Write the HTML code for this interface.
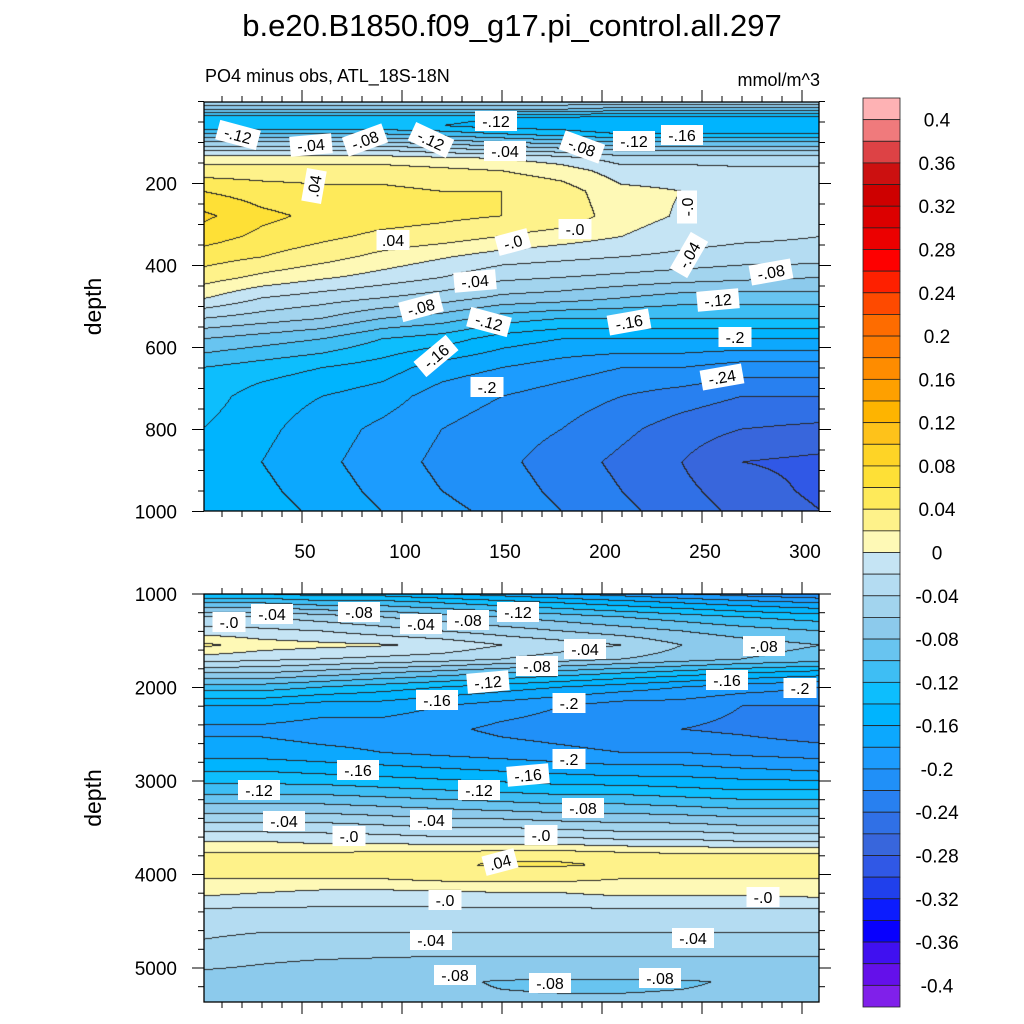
<!DOCTYPE html>
<html><head><meta charset="utf-8">
<style>
html,body{margin:0;padding:0;background:#fff;}
#root{position:relative;width:1024px;height:1024px;overflow:hidden;font-family:"Liberation Sans",sans-serif;}
canvas{position:absolute;}
svg{position:absolute;left:0;top:0;}
</style></head>
<body>
<div id="root">
<canvas id="cTop" style="left:204px;top:102px" width="615" height="409"></canvas>
<canvas id="cBot" style="left:204px;top:594px" width="615" height="408"></canvas>
<svg id="ov" width="1024" height="1024"></svg>
</div>
<script>
// ---------- data ----------
const xCols = [0, 30, 60, 90, 120, 150, 180, 210, 240, 270, 310];
const topDepths = [0, 20, 40, 60, 80, 100, 120, 140, 170, 220, 280, 330, 380, 430, 480, 530, 580, 650, 720, 800, 880, 950, 1000];
const topValues = [
 [-0.04,-0.04,-0.04,-0.04,-0.04,-0.04,-0.04,-0.04,-0.04,-0.04,-0.04],
 [-0.08,-0.08,-0.08,-0.08,-0.08,-0.08,-0.08,-0.09,-0.09,-0.09,-0.09],
 [-0.13,-0.13,-0.13,-0.13,-0.13,-0.14,-0.14,-0.15,-0.15,-0.15,-0.15],
 [-0.14,-0.14,-0.14,-0.14,-0.14,-0.15,-0.15,-0.16,-0.16,-0.16,-0.16],
 [-0.10,-0.10,-0.10,-0.10,-0.11,-0.12,-0.13,-0.14,-0.14,-0.14,-0.14],
 [-0.06,-0.06,-0.06,-0.06,-0.07,-0.08,-0.09,-0.10,-0.10,-0.10,-0.10],
 [-0.02,-0.02,-0.02,-0.02,-0.03,-0.04,-0.05,-0.06,-0.06,-0.06,-0.06],
 [0.01,0.01,0.01,0.01,0.005,0.0,-0.01,-0.03,-0.03,-0.03,-0.03],
 [0.03,0.03,0.03,0.03,0.025,0.02,0.01,-0.01,-0.01,-0.015,-0.015],
 [0.06,0.05,0.045,0.045,0.04,0.04,0.03,0.005,0.0,-0.01,-0.012],
 [0.085,0.065,0.055,0.05,0.045,0.04,0.035,0.008,-0.002,-0.01,-0.012],
 [0.07,0.055,0.045,0.035,0.03,0.02,0.01,0.0,-0.01,-0.015,-0.02],
 [0.05,0.04,0.028,0.014,0.002,-0.01,-0.015,-0.02,-0.025,-0.03,-0.03],
 [0.03,0.015,0.003,-0.008,-0.02,-0.035,-0.04,-0.045,-0.05,-0.055,-0.06],
 [0.002,-0.02,-0.03,-0.04,-0.05,-0.065,-0.07,-0.08,-0.09,-0.09,-0.09],
 [-0.04,-0.05,-0.06,-0.08,-0.09,-0.11,-0.12,-0.12,-0.12,-0.12,-0.12],
 [-0.08,-0.09,-0.10,-0.12,-0.13,-0.15,-0.16,-0.16,-0.16,-0.16,-0.16],
 [-0.12,-0.13,-0.14,-0.15,-0.17,-0.18,-0.19,-0.20,-0.20,-0.21,-0.21],
 [-0.13,-0.15,-0.16,-0.17,-0.19,-0.20,-0.21,-0.22,-0.23,-0.24,-0.24],
 [-0.14,-0.155,-0.17,-0.185,-0.20,-0.21,-0.22,-0.235,-0.25,-0.26,-0.265],
 [-0.145,-0.16,-0.175,-0.19,-0.205,-0.215,-0.23,-0.245,-0.26,-0.28,-0.285],
 [-0.14,-0.155,-0.17,-0.185,-0.20,-0.21,-0.225,-0.24,-0.255,-0.27,-0.285],
 [-0.14,-0.15,-0.165,-0.18,-0.195,-0.205,-0.22,-0.235,-0.25,-0.265,-0.28]
];
const botDepths = [1000,1100,1250,1400,1550,1700,1850,2000,2200,2450,2700,2900,3100,3300,3500,3650,3800,3900,4050,4200,4400,4700,5000,5150,5400];
const botValues = [
 [-0.14,-0.14,-0.15,-0.15,-0.16,-0.17,-0.18,-0.19,-0.20,-0.21,-0.22],
 [-0.10,-0.10,-0.11,-0.11,-0.12,-0.13,-0.14,-0.15,-0.16,-0.17,-0.18],
 [-0.04,-0.04,-0.05,-0.06,-0.07,-0.08,-0.09,-0.10,-0.11,-0.12,-0.13],
 [-0.01,-0.015,-0.02,-0.03,-0.04,-0.05,-0.06,-0.07,-0.08,-0.09,-0.10],
 [0.025,0.01,0.005,0.002,-0.005,-0.02,-0.03,-0.04,-0.06,-0.07,-0.08],
 [-0.01,-0.015,-0.02,-0.025,-0.03,-0.04,-0.05,-0.06,-0.07,-0.08,-0.09],
 [-0.06,-0.06,-0.07,-0.08,-0.09,-0.10,-0.11,-0.12,-0.13,-0.14,-0.15],
 [-0.11,-0.11,-0.12,-0.13,-0.14,-0.15,-0.16,-0.17,-0.18,-0.19,-0.20],
 [-0.16,-0.16,-0.17,-0.17,-0.18,-0.19,-0.20,-0.21,-0.21,-0.22,-0.22],
 [-0.185,-0.185,-0.19,-0.19,-0.195,-0.205,-0.21,-0.215,-0.22,-0.225,-0.235],
 [-0.17,-0.17,-0.175,-0.18,-0.185,-0.19,-0.195,-0.20,-0.20,-0.205,-0.21],
 [-0.14,-0.14,-0.145,-0.15,-0.155,-0.16,-0.165,-0.17,-0.17,-0.175,-0.18],
 [-0.11,-0.11,-0.11,-0.115,-0.12,-0.125,-0.13,-0.13,-0.135,-0.14,-0.14],
 [-0.07,-0.07,-0.07,-0.075,-0.08,-0.085,-0.09,-0.09,-0.095,-0.10,-0.10],
 [-0.03,-0.03,-0.03,-0.035,-0.04,-0.04,-0.045,-0.05,-0.05,-0.055,-0.055],
 [0.0,0.0,-0.005,-0.005,-0.01,-0.01,-0.01,-0.015,-0.015,-0.02,-0.02],
 [0.025,0.025,0.025,0.03,0.03,0.035,0.035,0.03,0.025,0.025,0.025],
 [0.03,0.03,0.03,0.035,0.038,0.042,0.042,0.038,0.03,0.03,0.03],
 [0.02,0.02,0.02,0.02,0.025,0.025,0.025,0.02,0.02,0.02,0.02],
 [0.005,0.0,-0.005,-0.005,-0.005,0.0,0.0,0.005,0.005,0.005,0.008],
 [-0.025,-0.025,-0.025,-0.025,-0.025,-0.025,-0.025,-0.025,-0.025,-0.025,-0.025],
 [-0.04,-0.045,-0.045,-0.045,-0.045,-0.045,-0.045,-0.045,-0.045,-0.045,-0.045],
 [-0.058,-0.062,-0.066,-0.068,-0.07,-0.07,-0.07,-0.07,-0.07,-0.07,-0.07],
 [-0.07,-0.072,-0.074,-0.076,-0.078,-0.081,-0.082,-0.082,-0.081,-0.079,-0.078],
 [-0.072,-0.074,-0.076,-0.077,-0.078,-0.078,-0.078,-0.078,-0.078,-0.078,-0.078]
];
const palette = ["#8020EA","#6410EA","#4010F0","#0800FE","#0C1CFE","#2040EC","#3058E6","#3866DC","#3070E6","#2880F0","#2090F8","#1C9CFE","#0CA8FE","#00B4FE","#0DBEFD","#3EBEF4","#68C4F0","#8CCAEC","#A2D4EE","#B4DCF2","#C5E4F4",
 "#FEF9B6","#FEF28A","#FEEA5A","#FEE036","#FED426","#FEC21A","#FEB400","#FEA000","#FE8C00","#FE7A00","#FE6C00","#FE4A00","#FE2000","#FE0000","#EC0000","#DC0000","#CE0000","#CC1010","#DD4245","#F07A7C","#FEB2B4"];
const cbLabels = ["0.4","0.36","0.32","0.28","0.24","0.2","0.16","0.12","0.08","0.04","0","-0.04","-0.08","-0.12","-0.16","-0.2","-0.24","-0.28","-0.32","-0.36","-0.4"];
const topYTicks = [200,400,600,800,1000];
const botYTicks = [1000,2000,3000,4000,5000];
const xTicks = [50,100,150,200,250,300];
const contourLabelsTop = [["-.12",238,135,15],["-.04",311,145,-5],["-.08",365,140,-20],["-.12",431,140,25],["-.12",496,121,0],["-.04",505,151,0],["-.08",582,147,20],["-.12",634,141,0],["-.16",682,135,0],[".04",314,186,-80],[".04",393,240,0],["-.0",513,242,-15],["-.0",575,229,0],["-.0",687,207,-90],["-.04",689,255,-60],["-.04",475,281,-5],["-.08",421,307,-15],["-.12",489,322,15],["-.16",436,356,-40],["-.16",629,322,-10],["-.08",771,272,-10],["-.12",718,300,-5],["-.2",735,337,0],["-.2",487,387,0],["-.24",722,377,-10]];
const contourLabelsBot = [["-.0",229,622,0],["-.04",272,614,0],["-.08",359,612,0],["-.04",421,624,0],["-.08",468,620,0],["-.12",518,612,0],["-.04",585,649,0],["-.08",537,666,0],["-.08",764,646,0],["-.12",488,682,-5],["-.16",437,700,0],["-.2",569,703,0],["-.16",727,680,0],["-.2",800,688,0],["-.16",358,770,0],["-.2",569,759,0],["-.16",528,775,-5],["-.12",259,790,0],["-.12",479,790,0],["-.04",284,821,0],["-.08",583,808,0],["-.04",431,820,0],["-.0",349,836,0],["-.0",541,835,0],[".04",500,862,-15],["-.0",445,900,0],["-.0",763,897,0],["-.04",431,940,0],["-.04",693,938,0],["-.08",455,975,0],["-.08",550,983,0],["-.08",660,978,0]];

// ---------- scales ----------
const X0PX = 202, XPU = 2.0;
function xPx(x){ return X0PX + x*XPU; }
function xInv(px){ return (px - X0PX)/XPU; }
function yTop(d){ return 101.5 + d*0.41; }
function yTopInv(py){ return (py-101.5)/0.41; }
function yBot(d){ return 594 + (d-1000)*0.0935; }
function yBotInv(py){ return 1000 + (py-594)/0.0935; }

function seg(arr, v){
  if (v <= arr[0]) return [0,0];
  for (let i=0;i<arr.length-1;i++){ if (v<=arr[i+1]) return [i,(v-arr[i])/(arr[i+1]-arr[i])]; }
  return [arr.length-2,1];
}
function sample(depths, vals, x, d){
  const [i,ti] = seg(depths,d), [j,tj] = seg(xCols,x);
  const a=vals[i][j], b=vals[i][j+1], c=vals[i+1][j], e=vals[i+1][j+1];
  return (a*(1-tj)+b*tj)*(1-ti) + (c*(1-tj)+e*tj)*ti;
}
function levelIndex(v){ let k=Math.floor((v+0.4)/0.02+1e-9)+1; return Math.max(0,Math.min(41,k)); }
function hex(c){ return [parseInt(c.slice(1,3),16),parseInt(c.slice(3,5),16),parseInt(c.slice(5,7),16)]; }
const rgb = palette.map(hex);

function drawPanel(id, left, top, depths, vals, yInv){
  const cv=document.getElementById(id), ctx=cv.getContext('2d');
  const W=cv.width, H=cv.height, idx=new Int16Array(W*H);
  for (let py=0;py<H;py++){ const d=yInv(top+py+0.5);
    for (let px=0;px<W;px++){ idx[py*W+px]=levelIndex(sample(depths,vals,xInv(left+px+0.5),d)); } }
  const img=ctx.createImageData(W,H);
  for (let py=0;py<H;py++) for (let px=0;px<W;px++){
    const k=py*W+px; let c=rgb[idx[k]];
    const edge=(px<W-1&&idx[k+1]!==idx[k])||(py<H-1&&idx[k+W]!==idx[k]);
    if (edge) c=[40,40,40];
    img.data[k*4]=c[0];img.data[k*4+1]=c[1];img.data[k*4+2]=c[2];img.data[k*4+3]=255; }
  ctx.putImageData(img,0,0);
}
drawPanel('cTop',204,102,topDepths,topValues,yTopInv);
drawPanel('cBot',204,594,botDepths,botValues,yBotInv);

// ---------- overlay ----------
const NS="http://www.w3.org/2000/svg", ov=document.getElementById('ov');
function mk(tag, attrs, parent){ const e=document.createElementNS(NS,tag); for(const k in attrs) e.setAttribute(k,attrs[k]); (parent||ov).appendChild(e); return e; }
function txt(s, attrs, parent){ const e=mk('text',attrs,parent); e.textContent=s; return e; }

const title=txt("b.e20.B1850.f09_g17.pi_control.all.297",{x:512,y:36,"font-size":31,"text-anchor":"middle",fill:"#000"});


const sub=txt("PO4 minus obs, ATL_18S-18N",{x:205,y:82,"font-size":18,fill:"#000"});


const units=txt("mmol/m^3",{x:820,y:86,"font-size":18,"text-anchor":"end",fill:"#000"});



function axes(name, top, bottom, yTicks, yFn, minorStep, dMin, dMax, showX){
  const g=mk('g',{});
  
  
  mk('rect',{x:204,y:top,width:615,height:bottom-top,fill:"none",stroke:"#000","stroke-width":1.3},g);
  for (let x=10;x<=308;x+=10){ const px=xPx(x), major=(x%50===0), L=major?12:6;
    mk('line',{x1:px,x2:px,y1:top,y2:top-L,stroke:"#000","stroke-width":1},g);
    mk('line',{x1:px,x2:px,y1:bottom,y2:bottom+L,stroke:"#000","stroke-width":1},g); }
  for (let d=Math.ceil(dMin/minorStep)*minorStep; d<=dMax; d+=minorStep){ const py=yFn(d);
    if (py<top-0.5||py>bottom+0.5) continue;
    const major=yTicks.includes(d), L=major?12:6;
    mk('line',{x1:204,x2:204-L,y1:py,y2:py,stroke:"#000","stroke-width":1},g);
    mk('line',{x1:819,x2:819+L,y1:py,y2:py,stroke:"#000","stroke-width":1},g); }
  yTicks.forEach(d=>{ const t=txt(String(d),{x:177,y:yFn(d)+7,"font-size":19,"text-anchor":"end",fill:"#000"},g);
    
     });
  if (showX) xTicks.forEach(x=>{ const t=txt(String(x),{x:xPx(x)+3,y:558,"font-size":19,"text-anchor":"middle",fill:"#000"},g);
    
     });
  const yc=(top+bottom)/2;
  const yl=txt("depth",{x:101,y:yc,"font-size":23,"text-anchor":"middle",fill:"#000",transform:`rotate(-90 101 ${yc})`},g);
  
  
}
axes('top-panel',102,511,topYTicks,yTop,50,0,1000,true);
axes('bottom-panel',594,1002,botYTicks,yBot,200,1000,5400,false);

function labels(list, name){
  list.forEach(([s,x,y,r])=>{
    const g=mk('g',{transform:`translate(${x} ${y}) rotate(${r})`});
    
    
    const w=s.length*9+6;
    mk('rect',{x:-w/2,y:-10,width:w,height:20,fill:"#fff"},g);
    txt(s,{x:0,y:6,"font-size":16,"text-anchor":"middle",fill:"#000"},g);
  });
}
labels(contourLabelsTop,'top-contour-label');
labels(contourLabelsBot,'bottom-contour-label');

const cbTop=98, cbBot=1007, bh=(cbBot-cbTop)/palette.length;
const cb=mk('g',{});


for (let i=0;i<palette.length;i++){
  const r=mk('rect',{x:863,y:cbTop+i*bh,width:37,height:bh,fill:palette[palette.length-1-i],stroke:"#222","stroke-width":0.8},cb);
  
  
}
cbLabels.forEach((s,i)=>{ const y=cbTop+(1+2*i)*bh;
  const t=txt(s,{x:937,y:y+7,"font-size":19,"text-anchor":"middle",fill:"#000"},cb);
  
   });
</script>
</body></html>
